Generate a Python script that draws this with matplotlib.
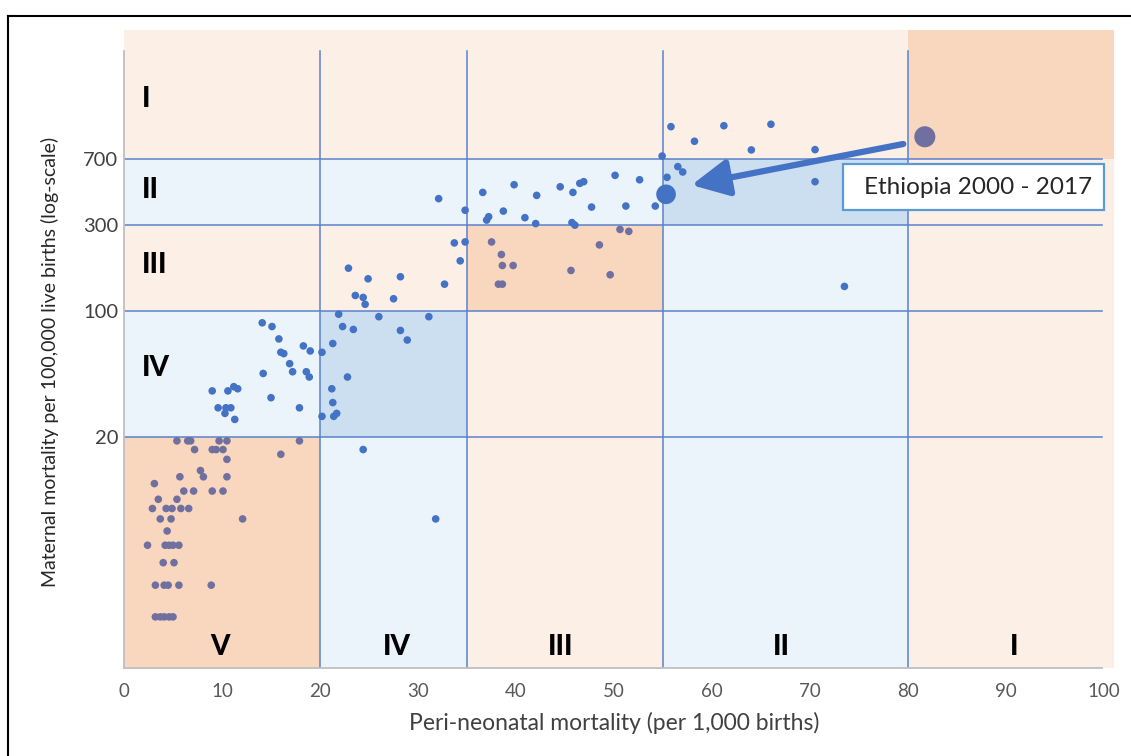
import matplotlib
matplotlib.use("Agg")
import matplotlib.pyplot as plt
from matplotlib.patches import Rectangle
from matplotlib.lines import Line2D
import numpy as np

plt.rcParams['font.family'] = ['Lato', 'DejaVu Sans']

# ---------------- data ----------------
peri_neonatal = [
    5.4, 6.5, 6.8, 9.7, 10.5, 17.9, 7.2, 9.0, 9.4, 10.1, 10.5, 16.0, 7.8, 8.1, 5.7, 10.5,
    3.1, 6.1, 7.1, 9.0, 10.1, 3.5, 5.4, 2.9, 4.3, 4.9, 5.8, 6.6, 3.7, 4.8, 12.1, 4.4,
    2.4, 4.2, 4.6, 5.0, 5.6, 4.0, 5.1, 3.2, 4.1, 4.5, 5.6, 8.9, 3.2, 3.7, 4.1, 4.6, 5.0,
    14.1, 15.1, 15.8, 16.0, 16.3, 18.3, 19.0, 16.9, 17.2, 18.6, 18.9, 14.2, 9.0, 10.6,
    11.2, 11.6, 15.0, 9.6, 10.4, 10.9, 10.3, 11.3, 17.9,
    20.2, 21.3, 21.9, 22.3, 23.4, 26.0, 28.2, 28.9, 31.1, 22.8, 21.2, 21.3, 20.2, 21.4,
    21.7, 24.4, 31.8,
    22.9, 24.9, 23.6, 24.4, 24.6, 27.5, 28.2, 32.7, 33.7, 34.8, 34.3,
    32.1, 34.8, 36.6, 39.8, 42.1, 44.5, 45.8, 46.5, 46.9, 50.1, 52.6, 47.7, 51.2, 54.2,
    37.0, 37.2, 38.7, 40.9, 42.0, 45.7, 46.0,
    50.6, 51.5, 37.5, 38.5, 38.6, 39.7, 45.6, 48.5, 49.6, 38.2, 38.6,
    55.8, 58.2, 61.2, 66.0, 64.0, 54.9, 56.5, 57.0, 55.4, 70.5, 70.5, 73.5,
]
maternal = [
    19, 19, 19, 19, 19, 19, 17, 17, 17, 17, 15, 16, 13, 12, 12, 12,
    11, 10, 10, 10, 10, 9, 9, 8, 8, 8, 8, 8, 7, 7, 7, 6,
    5, 5, 5, 5, 5, 4, 4, 3, 3, 3, 3, 3, 2, 2, 2, 2, 2,
    86, 82, 70, 59, 58, 64, 60, 51, 46, 46, 43, 45, 36, 36,
    38, 37, 33, 29, 29, 29, 27, 25, 29,
    59, 66, 96, 82, 79, 93, 78, 69, 93, 43, 37, 31, 26, 26,
    27, 17, 7,
    173, 151, 122, 119, 109, 117, 155, 141, 239, 242, 190,
    421, 363, 456, 503, 439, 490, 456, 512, 523, 567, 536, 378, 383, 383,
    320, 334, 359, 330, 306, 310, 300,
    284, 277, 242, 206, 179, 179, 168, 233, 159, 141, 141,
    1057, 877, 1070, 1090, 785, 726, 634, 592, 553, 788, 523, 137,
]
ethiopia_years = ["2000", "2017"]
ethiopia_peri = [81.7, 55.3]
ethiopia_maternal = [929, 445]

x_cuts = [0, 20, 35, 55, 80, 101]
y_cuts_inner = [20, 100, 300, 700]
class_labels = ["V", "IV", "III", "II", "I"]
x_ticks = [0, 10, 20, 30, 40, 50, 60, 70, 80, 90, 100]
y_ticks = [20, 100, 300, 700]

# ---------------- style ----------------
YLO, YHI = 1.04, 3640
PEACH = "#FCEFE6"
LBLUE = "#EBF3FB"
DBLUE = "#CCDFF0"
ORANGE = "#F9D6BE"
PT_BLUE = "#4472C4"
PT_GREY = "#6F709F"
LINE = "#5A82CC"

fig = plt.figure(figsize=(11.31, 7.56), dpi=100)
ax = fig.add_axes([124 / 1131, 88 / 756, 990 / 1131, 638 / 756])
ax.set_yscale("log")
ax.set_xlim(0, 101)
ax.set_ylim(YLO, YHI)
ax.set_facecolor("white")

y_cuts = [YLO] + y_cuts_inner + [YHI]
for i in range(5):
    for j in range(5):
        ccls = 5 - i
        rcls = 5 - j
        c = min(ccls, rcls)
        if ccls == rcls:
            col = ORANGE if c % 2 == 1 else DBLUE
        else:
            col = PEACH if c % 2 == 1 else LBLUE
        ax.add_patch(Rectangle((x_cuts[i], y_cuts[j]), x_cuts[i + 1] - x_cuts[i],
                               y_cuts[j + 1] - y_cuts[j], facecolor=col,
                               edgecolor="none", zorder=0))

# grid lines
for xv in x_cuts[1:-1]:
    ax.plot([xv, xv], [YLO, 2770], color=LINE, lw=1.1, zorder=2)
for yv in y_cuts_inner:
    ax.plot([0, 99.8], [yv, yv], color=LINE, lw=1.1, zorder=2)


def cls_x(v):
    for k, c in enumerate(x_cuts[1:]):
        if v < c:
            return 5 - k
    return 1


def cls_y(v):
    for k, c in enumerate(y_cuts[1:]):
        if v < c:
            return 5 - k
    return 1


colors = [PT_GREY if (cls_x(a) == cls_y(b) and cls_x(a) % 2 == 1) else PT_BLUE
          for a, b in zip(peri_neonatal, maternal)]
ax.scatter(peri_neonatal, maternal, s=30, c=colors, linewidths=0, zorder=3)

# Ethiopia
eth_colors = [PT_GREY if (cls_x(a) == cls_y(b) and cls_x(a) % 2 == 1) else PT_BLUE
              for a, b in zip(ethiopia_peri, ethiopia_maternal)]
ax.scatter(ethiopia_peri, ethiopia_maternal, s=[230, 200], c=eth_colors,
           linewidths=0, zorder=4)
ax.annotate("", xy=(57.9, 501), xytext=(79.5, 847),
            arrowprops=dict(arrowstyle="-|>,head_length=1.5,head_width=0.75",
                            lw=4.5, color=PT_BLUE, mutation_scale=15,
                            shrinkA=0, shrinkB=0), zorder=5)
ax.add_patch(Rectangle((73.4, 364), 26.6, 656 - 364, facecolor="white",
                       edgecolor="#5B9BD5", lw=1.6, zorder=6))
ax.text(87.1, 485, "Ethiopia " + ethiopia_years[0] + " - " + ethiopia_years[1],
        ha="center", va="center", fontsize=17.5, color="#262626", zorder=7)

# class labels
row_label_y = [48, 180, 470, 1506]
for lab, yv in zip(class_labels[1:], row_label_y):
    ax.text(1.8, yv, lab, ha="left", va="center", fontsize=20,
            fontweight="black", color="black", zorder=5)
col_label_x = [9.8, 27.8, 44.5, 67.1, 90.8]
for lab, xv in zip(class_labels, col_label_x):
    ax.text(xv, 1.36, lab, ha="center", va="center", fontsize=20,
            fontweight="black", color="black", zorder=5)

# axes
for s in ["top", "right"]:
    ax.spines[s].set_visible(False)
ax.spines["left"].set_bounds(YLO, 2770)
ax.spines["bottom"].set_bounds(0, 99.8)
for s in ["left", "bottom"]:
    ax.spines[s].set_color("#BFBFBF")
    ax.spines[s].set_linewidth(1.3)
    ax.spines[s].set_zorder(2.5)

ax.set_xticks(x_ticks)
ax.set_xticklabels([str(v) for v in x_ticks])
ax.set_yticks(y_ticks)
ax.set_yticklabels([str(v) for v in y_ticks])
ax.yaxis.set_minor_locator(matplotlib.ticker.NullLocator())
ax.tick_params(axis="x", length=0, pad=11, labelsize=13.5, labelcolor="#595959")
ax.tick_params(axis="y", length=0, pad=4, labelsize=14.5, labelcolor="#404040")

fig.text(614 / 1131, 1 - 723 / 756, "Peri-neonatal mortality (per 1,000 births)",
         ha="center", va="center", fontsize=16.5, color="#404040")
fig.text(50 / 1131, 1 - 362 / 756,
         "Maternal mortality per 100,000 live births (log-scale)",
         ha="center", va="center", rotation=90, fontsize=14, color="#262626")

# outer frame
fig.add_artist(Line2D([8 / 1131, 1], [1 - 16 / 756, 1 - 16 / 756],
                      color="black", lw=1.5, transform=fig.transFigure))
fig.add_artist(Line2D([8 / 1131, 8 / 1131], [0, 1 - 16 / 756],
                      color="black", lw=1.5, transform=fig.transFigure))

fig.savefig("out.png", dpi=100)
